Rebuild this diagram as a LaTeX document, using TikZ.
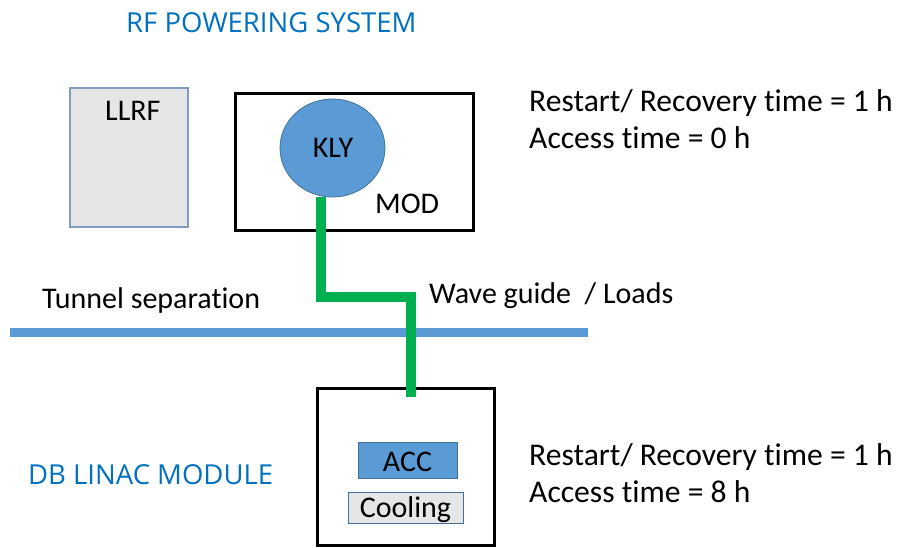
\documentclass[tikz,border=0pt]{standalone}
\usepackage{fontspec}
\setmainfont{Carlito}[Ligatures={NoCommon}]
\newfontfamily\titlefont{Open Sans}
\usetikzlibrary{shapes.geometric}
\definecolor{ttlblue}{HTML}{0070C0}
\definecolor{fillblue}{HTML}{5B9BD5}
\definecolor{edgeblue}{HTML}{41719C}
\definecolor{lgray}{HTML}{E7E6E6}
\definecolor{llrfedge}{HTML}{7F9DC0}
\definecolor{pipegreen}{HTML}{00B050}
\tikzset{
  txt/.style={anchor=base west, inner sep=0pt, font=\fontsize{30}{35}\selectfont},
  rtxt/.style={anchor=base west, inner sep=0pt, font=\fontsize{31.6}{37}\selectfont},
  ttl/.style={anchor=base west, inner sep=0pt, text=ttlblue, font=\titlefont\fontsize{27.5}{32}\selectfont},
  blackbox/.style={draw=black, line width=3pt, fill=white},
  pipe/.style={draw=pipegreen, line width=10pt},
  sepline/.style={draw=fillblue, line width=9pt}
}
\begin{document}
\begin{tikzpicture}[x=1pt,y=-1pt]
\useasboundingbox (0,0) rectangle (901,547);
% titles
\node[ttl] (rfttl) at (126,32) {RF POWERING SYSTEM};
\node[ttl] (dbttl) at (28,484) {DB LINAC MODULE};
% LLRF
\draw[draw=llrfedge, line width=1.5pt, fill=lgray] (70,88) rectangle (188,227);
\node[txt] (llrf) at (105,120) {LLRF};
% MOD box
\draw[blackbox] (235,93) rectangle (473,230);
\node[txt] (mod) at (375,213) {MOD};
% KLY
\node[ellipse, draw=edgeblue, line width=0.8pt, fill=fillblue, minimum width=105pt, minimum height=98pt, inner sep=0pt] (kly) at (332.5,148) {};
\node[txt, anchor=base] (klyt) at (333,157) {KLY};
% tunnel separation
\coordinate (sepL) at (10,332);
\coordinate (sepR) at (588,332);
\draw[sepline] (sepL) -- (sepR);
\node[txt] (tunnel) at (42,308) {Tunnel separation};
\node[txt] (wave) at (429,303) {Wave guide \ / Loads};
% bottom box
\draw[blackbox] (317,388) rectangle (494,545);
\draw[draw=edgeblue, line width=1pt, fill=fillblue] (358,442) rectangle (457,478);
\node[txt, anchor=base] (acc) at (407.5,471) {ACC};
\draw[draw=edgeblue, line width=1pt, fill=lgray] (348,492) rectangle (463,523);
\node[txt, anchor=base] (cool) at (405.5,517) {Cooling};
% wave guide pipe
\coordinate (pB) at (321,297);
\coordinate (pC) at (411,297);
\coordinate (pD) at (411,397);
\draw[pipe] (kly.south -| pB) -- (pB) -- (pC) -- (pD);
% right texts
\node[rtxt] (r1) at (529,111) {Restart/ Recovery time = 1 h};
\node[rtxt] (r2) at (529,148) {Access time = 0 h};
\node[rtxt] (r3) at (529,465) {Restart/ Recovery time = 1 h};
\node[rtxt] (r4) at (529,502) {Access time = 8 h};
\end{tikzpicture}
\end{document}
